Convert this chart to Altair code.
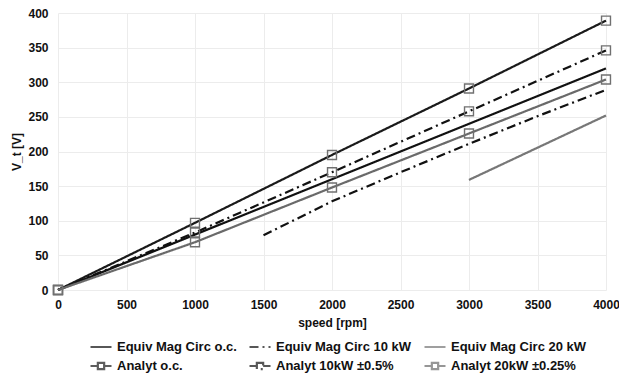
import altair as alt
import pandas as pd

series_names = ["Equiv Mag Circ o.c.", "Equiv Mag Circ 10 kW", "Equiv Mag Circ 20 kW",
                "Analyt o.c.", "Analyt 10kW ±0.5%", "Analyt 20kW ±0.25%"]

equiv_oc_speed = [0, 1000, 1500, 2000, 3000, 4000]
equiv_oc_vt = [0, 80, 120, 160, 240, 320]
equiv_10_speed = [1500, 2000, 2500, 3000, 3500, 4000]
equiv_10_vt = [79, 128, 170, 211, 251, 289]
equiv_20_speed = [3000, 4000]
equiv_20_vt = [159, 252]
analyt_speed = [0, 1000, 2000, 3000, 4000]
analyt_oc_vt = [0, 97, 195, 291, 389]
analyt_10_vt = [0, 83, 170, 258, 346]
analyt_20_vt = [0, 69, 148, 226, 304]

series_colors = ["#111111", "#111111", "#777777", "#1a1a1a", "#111111", "#6a6a6a"]
series_dashes = [[1, 0], [9, 4, 2, 4], [1, 0], [1, 0], [9, 4, 2, 4], [1, 0]]
series_widths = [2.2, 2.2, 1.0, 1.6, 2.0, 1.1]
line_sym = "M-1,0H1"
sq_sym = "M-1,0H-0.3M0.3,0H1M-0.3,-0.3H0.3V0.3H-0.3Z"
series_shapes = [line_sym, line_sym, line_sym, sq_sym, sq_sym, sq_sym]

rows = []
for name, xs, ys in [
    (series_names[0], equiv_oc_speed, equiv_oc_vt),
    (series_names[1], equiv_10_speed, equiv_10_vt),
    (series_names[2], equiv_20_speed, equiv_20_vt),
    (series_names[3], analyt_speed, analyt_oc_vt),
    (series_names[4], analyt_speed, analyt_10_vt),
    (series_names[5], analyt_speed, analyt_20_vt),
]:
    for i, (x, y) in enumerate(zip(xs, ys)):
        rows.append({"series": name, "speed": x, "vt": y, "order": i,
                     "analyt": name.startswith("Analyt")})
df = pd.DataFrame(rows)

font = "Liberation Sans"
xenc = alt.X("speed:Q", title="speed [rpm]",
             scale=alt.Scale(domain=[0, 4000], nice=False),
             axis=alt.Axis(values=list(range(0, 4001, 500)), format="d"))
yenc = alt.Y("vt:Q", title="V_t [V]",
             scale=alt.Scale(domain=[0, 400], nice=False),
             axis=alt.Axis(values=list(range(0, 401, 50))))

color = alt.Color("series:N", scale=alt.Scale(domain=series_names, range=series_colors),
                  legend=alt.Legend(title=None, orient="none", legendX=31, legendY=322,
                                    columns=3, direction="horizontal",
                                    symbolSize=441, labelFontSize=13, labelFont=font,
                                    labelFontWeight="bold", labelColor="#111",
                                    columnPadding=8, rowPadding=-5, labelOffset=4,
                                    labelLimit=220))
dash = alt.StrokeDash("series:N", scale=alt.Scale(domain=series_names, range=series_dashes))
width = alt.StrokeWidth("series:N", scale=alt.Scale(domain=series_names, range=series_widths))
shape = alt.Shape("series:N", scale=alt.Scale(domain=series_names, range=series_shapes))

lines = alt.Chart(df).mark_line().encode(
    x=xenc, y=yenc, color=color, strokeDash=dash, strokeWidth=width,
    detail="series:N", order="order:Q")

squares = alt.Chart(df).transform_filter(alt.datum.analyt).mark_point(
    shape="square", size=80, filled=False, stroke="#707070", strokeWidth=1.4, opacity=1
).encode(x=xenc, y=yenc)

legend_layer = alt.Chart(df).transform_filter("false").mark_point(filled=False).encode(
    x=xenc, y=yenc, color=color, strokeDash=dash, strokeWidth=width, shape=shape)

chart = alt.layer(lines, squares, legend_layer).properties(
    width=548, height=277,
    autosize=alt.AutoSizeParams(type="none"),
    padding={"left": 50, "top": 5, "right": 13, "bottom": 83},
).configure_view(stroke=None).configure_axis(
    grid=True, gridColor="#ececec", gridWidth=1, domain=False, ticks=False,
    labelFlush=False,
    labelFont=font, labelFontWeight="bold", labelFontSize=12, labelColor="#111",
    titleFont=font, titleFontWeight="bold", titleFontSize=12, titleColor="#111",
).configure_axisX(labelPadding=9, titlePadding=7).configure_axisY(
    labelPadding=10, titlePadding=4)

chart.save("out.html", embed_options={"renderer": "svg", "actions": False})
